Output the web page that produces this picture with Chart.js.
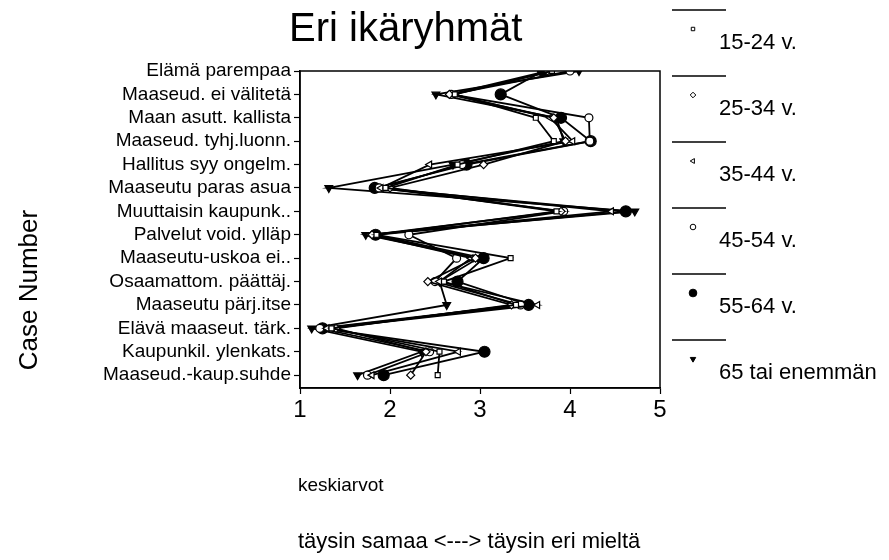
<!DOCTYPE html>
<html>
<head>
<meta charset="utf-8">
<script src="https://cdn.jsdelivr.net/npm/chart.js@4.4.0/dist/chart.umd.min.js"></script>
<style>
  html, body { margin: 0; padding: 0; background: #fff; }
  #wrap { width: 889px; height: 560px; }
</style>
</head>
<body>
<div id="wrap"><canvas id="chart" width="889" height="560"></canvas></div>
<script>
    // väittämät ylhäältä alas
    const categories = [
        'Elämä parempaa',
        'Maaseud. ei välitetä',
        'Maan asutt. kallista',
        'Maaseud. tyhj.luonn.',
        'Hallitus syy ongelm.',
        'Maaseutu paras asua',
        'Muuttaisin kaupunk..',
        'Palvelut void. ylläp',
        'Maaseutu-uskoa ei..',
        'Osaamattom. päättäj.',
        'Maaseutu pärj.itse',
        'Elävä maaseut. tärk.',
        'Kaupunkil. ylenkats.',
        'Maaseud.-kaup.suhde'
    ];

    // keskiarvot ikäryhmittäin (1 = täysin samaa, 5 = täysin eri mieltä)
    const age15to24 = [3.80, 2.72, 3.62, 3.82, 2.75, 1.95, 3.85, 1.85, 3.34, 2.60, 3.40, 1.35, 2.55, 2.53];
    const age25to34 = [3.75, 2.66, 3.82, 3.95, 3.04, 2.00, 3.90, 1.80, 2.95, 2.42, 3.35, 1.40, 2.40, 2.23];
    const age35to44 = [3.80, 2.70, 3.78, 4.03, 2.44, 1.90, 4.46, 1.78, 2.90, 2.55, 3.64, 1.30, 2.76, 1.80];
    const age45to54 = [4.00, 2.68, 4.21, 4.22, 2.80, 1.88, 3.93, 2.21, 2.74, 2.50, 3.45, 1.22, 2.44, 1.75];
    const age55to64 = [3.70, 3.23, 3.90, 4.23, 2.85, 1.83, 4.62, 1.84, 3.04, 2.75, 3.54, 1.25, 3.05, 1.93];
    const age65plus = [4.10, 2.51, 3.85, 3.93, 2.70, 1.32, 4.72, 1.73, 2.98, 2.55, 2.63, 1.13, 2.35, 1.64];

    const seriesLabels = ['15-24 v.', '25-34 v.', '35-44 v.', '45-54 v.', '55-64 v.', '65 tai enemmän'];
    const xTicks = [1, 2, 3, 4, 5];

    const FONT = '"Liberation Sans", Arial, sans-serif';

    // merkit: avoin neliö, vinoneliö, vasen kolmio, avoin ympyrä, täysi ympyrä, täysi kolmio alas
    const markers = [
        { pointStyle: 'rect', radius: 3.5, rotation: 0, fill: '#fff' },
        { pointStyle: 'rectRot', radius: 4, rotation: 0, fill: '#fff' },
        { pointStyle: 'triangle', radius: 4, rotation: -90, fill: '#fff' },
        { pointStyle: 'circle', radius: 4, rotation: 0, fill: '#fff' },
        { pointStyle: 'circle', radius: 5.5, rotation: 0, fill: '#000' },
        { pointStyle: 'triangle', radius: 4.5, rotation: 180, fill: '#000' }
    ];

    const allSeries = [age15to24, age25to34, age35to44, age45to54, age55to64, age65plus];

    const datasets = allSeries.map((values, i) => ({
        label: seriesLabels[i],
        data: values.map((v, row) => ({ x: v, y: row })),
        showLine: true,
        borderColor: '#000',
        borderWidth: 1.8,
        tension: 0,
        pointStyle: markers[i].pointStyle,
        pointRadius: markers[i].radius,
        pointRotation: markers[i].rotation,
        pointBackgroundColor: markers[i].fill,
        pointBorderColor: '#000',
        pointBorderWidth: 1.2
    }));

    // otsikot, kehys ja selite piirretään käsin
    const decorations = {
        id: 'decorations',
        afterDraw(chart) {
            const ctx = chart.ctx;
            const area = chart.chartArea;
            ctx.save();

            ctx.strokeStyle = '#000';
            ctx.lineWidth = 1.5;
            ctx.strokeRect(area.left, area.top, area.right - area.left, area.bottom - area.top);

            ctx.fillStyle = '#000';
            ctx.textBaseline = 'alphabetic';
            ctx.textAlign = 'left';
            ctx.font = '40px ' + FONT;
            ctx.fillText('Eri ikäryhmät', 289, 41);

            ctx.font = '19px ' + FONT;
            ctx.textBaseline = 'middle';
            ctx.fillText('keskiarvot', 298, 486);
            ctx.font = '22px ' + FONT;
            ctx.fillText('täysin samaa <---> täysin eri mieltä', 298, 542);

            ctx.save();
            ctx.translate(30, 290);
            ctx.rotate(-Math.PI / 2);
            ctx.textAlign = 'center';
            ctx.font = '26px ' + FONT;
            ctx.fillText('Case Number', 0, 0);
            ctx.restore();

            // selite oikealla
            seriesLabels.forEach((label, i) => {
                const lineY = 10 + i * 66;
                ctx.lineWidth = 1.5;
                ctx.beginPath();
                ctx.moveTo(672, lineY);
                ctx.lineTo(726, lineY);
                ctx.stroke();

                const m = markers[i];
                ctx.fillStyle = m.fill;
                ctx.lineWidth = 1;
                Chart.helpers.drawPoint(ctx, {
                    pointStyle: m.pointStyle,
                    rotation: m.rotation,
                    radius: m.radius * 0.7,
                    borderWidth: 1
                }, 693, lineY + 19);

                ctx.fillStyle = '#000';
                ctx.font = '22px ' + FONT;
                ctx.textAlign = 'left';
                ctx.fillText(label, 719, lineY + 33);
            });
            ctx.restore();
        }
    };

    document.addEventListener('DOMContentLoaded', function () {
        const ctx = document.getElementById('chart').getContext('2d');
        new Chart(ctx, {
            type: 'scatter',
            data: { datasets: datasets },
            options: {
                responsive: false,
                animation: false,
                layout: { padding: { top: 71, right: 229, left: 0, bottom: 0 } },
                plugins: {
                    legend: { display: false },
                    tooltip: { enabled: false }
                },
                scales: {
                    x: {
                        type: 'linear',
                        min: xTicks[0],
                        max: xTicks[xTicks.length - 1],
                        afterFit: scale => { scale.height = 172; },
                        afterBuildTicks: scale => { scale.ticks = xTicks.map(v => ({ value: v })); },
                        ticks: { color: '#000', font: { family: FONT, size: 24 }, padding: 2 },
                        grid: { drawOnChartArea: false, color: '#000', tickLength: 6, tickWidth: 1.2 },
                        border: { color: '#000', width: 1.5 }
                    },
                    y: {
                        type: 'linear',
                        reverse: true,
                        min: 0,
                        max: 13.55,
                        afterFit: scale => { scale.width = 300; },
                        ticks: {
                            stepSize: 1,
                            autoSkip: false,
                            includeBounds: false,
                            color: '#000',
                            font: { family: FONT, size: 19 },
                            padding: 3,
                            callback: v => categories[v]
                        },
                        grid: { drawOnChartArea: false, color: '#000', tickLength: 6, tickWidth: 1.2 },
                        border: { color: '#000', width: 1.5 }
                    }
                }
            },
            plugins: [decorations]
        });
    });
</script>
</body>
</html>
